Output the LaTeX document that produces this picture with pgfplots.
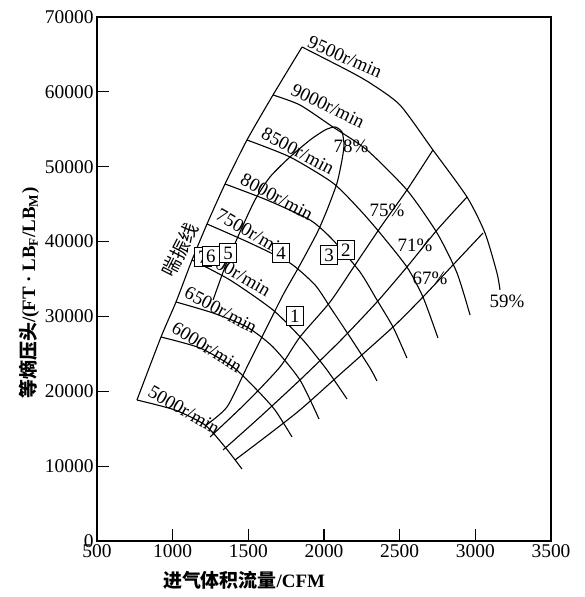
\documentclass[border=0pt]{standalone}
\usepackage{fontspec}
\setmainfont{Liberation Serif}
\newfontfamily\cjk{Noto Sans CJK SC}
\usepackage{pgfplots}
\pgfplotsset{compat=1.18}
\begin{document}
\begin{tikzpicture}[crv/.style={black, solid, line width=1.1bp, no markers, smooth, tension=0.4}]
\useasboundingbox (-97bp,-56bp) rectangle (488bp,541bp);
\begin{axis}[
  scale only axis, width=454bp, height=524bp,
  xmin=500, xmax=3500, ymin=0, ymax=70000,
  xtick={500,1000,...,3500}, ytick={0,10000,...,70000},
  scaled ticks=false,
  /pgf/number format/1000 sep={},
  /pgf/number format/assume math mode=true,
  tick align=inside, xtick pos=bottom, ytick pos=left,
  major tick length=12bp,
  axis line style={line width=1.2bp},
  tick style={line width=1.2bp, black},
  tick label style={font=\fontsize{19.5}{21}\selectfont},
  label style={font=\fontsize{19}{22}\selectfont\bfseries},
  xlabel={{\cjk 进气体积流量}/CFM},
  ylabel={{\cjk 等熵压头}/(FT · LB\textsubscript{F}/LB\textsubscript{M})},
  xlabel style={at={(axis description cs:0.324,-0.0744)}, anchor=center},
  ylabel style={at={(axis description cs:-0.150,0.473)}, anchor=center},
  clip=false,
]
% surge line
\addplot[crv] coordinates {(764,18836) (923,27252) (1022,31928) (1128,37539) (1227,42348) (1346,47692) (1491,53570) (1663,59581) (1855,65993)};
% speed lines
\addplot[crv] coordinates {(1855,65993) (2152,62921) (2304,61184) (2502,58245) (2720,52234) (2945,45955) (3064,41146) (3143,35802) (3163,33531)};
\addplot[crv] coordinates {(1663,59581) (1841,58245) (2059,55306) (2284,52234) (2548,46890) (2747,41146) (2879,35802) (2965,30191)};
\addplot[crv] coordinates {(1491,53570) (1775,51299) (2059,47825) (2238,44218) (2370,41146) (2548,36604) (2654,32596) (2753,27119)};
\addplot[crv] coordinates {(1346,47692) (1623,45554) (1908,42882) (2059,40211) (2238,35936) (2350,32195) (2456,28588) (2548,24447)};
\addplot[crv] coordinates {(1227,42348) (1511,39810) (1775,37138) (1941,34199) (2040,31260) (2172,27252) (2304,23112) (2350,21374)};
\addplot[crv] coordinates {(1128,37539) (1379,34867) (1663,30859) (1861,26852) (2020,22844) (2152,18970)};
\addplot[crv] coordinates {(1022,31928) (1267,30459) (1491,28588) (1663,25917) (1841,21508) (1967,16298)};
\addplot[crv] coordinates {(923,27252) (1181,25783) (1399,23245) (1557,20172) (1676,17500) (1789,13893)};
\addplot[crv] coordinates {(764,18836) (1015,17500) (1214,15496) (1346,12557) (1458,9618)};
% efficiency lines
\addplot[crv] coordinates {(1267,32195) (1346,36604) (1445,41279) (1544,45554) (1643,48627) (1775,51299) (1908,53570) (2007,54906) (2073,55306) (2119,54639) (2132,52902) (2119,50898) (2086,47825) (2020,44218) (1954,41146) (1841,36871) (1729,32863) (1623,28588) (1491,23245) (1359,17901) (1214,15363)};
\addplot[crv] coordinates {(1247,13893) (1491,18569) (1709,23245) (1841,27252) (2040,31928) (2205,36871) (2370,41814) (2548,46890) (2720,52234)};
\addplot[crv] coordinates {(1333,12157) (1577,16565) (1841,21508) (2106,26718) (2350,31928) (2548,36604) (2747,41546) (2945,45955)};
\addplot[crv] coordinates {(1412,10821) (1630,14161) (1841,17500) (2086,21909) (2456,28588) (2654,32596) (2852,36871) (3051,41146)};
% labels
\begin{scope}[every node/.style={font=\fontsize{19}{21}\selectfont, inner sep=0pt}]
\node[rotate=-24] at (axis cs:2139,64658) {9500r/min};
\node[rotate=-26] at (axis cs:2026,58112) {9000r/min};
\node[rotate=-28] at (axis cs:1828,52100) {8500r/min};
\node[rotate=-28] at (axis cs:1689,45955) {8000r/min};
\node[rotate=-30] at (axis cs:1524,41146) {7500r/min};
\node[rotate=-30] at (axis cs:1412,35936) {7000r/min};
\node[rotate=-28] at (axis cs:1319,30859) {6500r/min};
\node[rotate=-32] at (axis cs:1227,25916) {6000r/min};
\node[rotate=-30] at (axis cs:1075,17500) {5000r/min};
\node at (axis cs:2178,52768) {78\%};
\node at (axis cs:2416,44218) {75\%};
\node at (axis cs:2601,39543) {71\%};
\node at (axis cs:2700,35134) {67\%};
\node at (axis cs:3209,32062) {59\%};
\node[rotate=63] at (axis cs:1048,38875) {\cjk 喘振线};
\end{scope}
\begin{scope}[every node/.style={font=\fontsize{19}{21}\selectfont, draw, line width=1bp, inner sep=1.2pt, minimum width=17bp, minimum height=19bp, fill=white}]
\node at (axis cs:1808,30058) {1};
\node at (axis cs:2145,38875) {2};
\node at (axis cs:2033,38207) {3};
\node at (axis cs:1716,38474) {4};
\node at (axis cs:1366,38474) {5};
\node at (axis cs:1200,37940) {7};
\node at (axis cs:1253,38073) {6};
\end{scope}
\end{axis}
\end{tikzpicture}
\end{document}
